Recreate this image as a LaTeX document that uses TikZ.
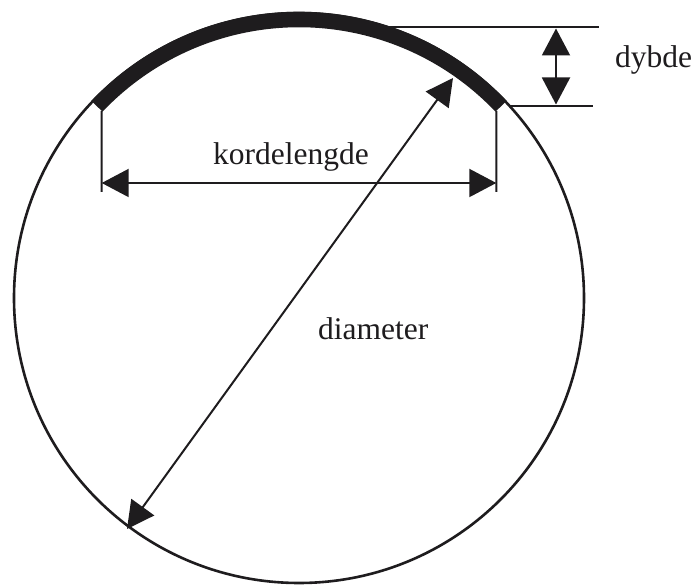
\documentclass[tikz,border=0pt]{standalone}
\usepackage{fontspec}
\setmainfont{Liberation Serif}
\usetikzlibrary{arrows.meta,calc}
\tikzset{
  thinline/.style={line width=2pt, draw={rgb,255:red,30;green,28;blue,30}},
  dimarrow/.style={thinline, {Triangle[length=27pt,width=28pt]}-{Triangle[length=27pt,width=28pt]}},
  lbl/.style={inner sep=0pt, anchor=base west, font=\fontsize{31.5}{36}\selectfont, text={rgb,255:red,30;green,28;blue,30}}
}
\begin{document}
\begin{tikzpicture}[x=1pt,y=1pt]
\useasboundingbox (0,0) rectangle (694,586);
\coordinate (O) at (299,288);
% dybde reference lines
\coordinate (T1) at (370,559);
\coordinate (T2) at (599,559);
\coordinate (B1) at (509.6,480);
\coordinate (B2) at (593,480);
\draw[thinline] (T1) -- (T2);
\draw[thinline] (B1) -- (B2);
% circle
\draw[line width=2.6pt, draw={rgb,255:red,30;green,28;blue,30}] (O) circle[radius=285];
% thick arc
\draw[line width=15.5pt, draw={rgb,255:red,30;green,28;blue,30}, line cap=butt]
  ($(O)+(43.5:278.5)$) arc[start angle=43.5, end angle=136.5, radius=278.5];
% chord extension lines
\coordinate (L) at ($(O)+(136.5:272)$);
\coordinate (R) at ($(O)+(43.5:272)$);
\coordinate (Lb) at (101.7,394);
\coordinate (Rb) at (496.3,394);
\draw[thinline] (L) -- (Lb);
\draw[thinline] (R) -- (Rb);
% chord arrow
\coordinate (KL) at (101.7,403);
\coordinate (KR) at (496.3,403);
\draw[dimarrow] (KL) -- (KR);
% depth arrow
\coordinate (D1) at (556,557.5);
\coordinate (D2) at (556,481.5);
\draw[dimarrow] (D1) -- (D2);
% diameter arrow
\coordinate (P1) at (127,57);
\coordinate (P2) at (453,508);
\draw[dimarrow] (P1) -- (P2);
% labels
\node[lbl] (kord) at (213,421) {kordelengde};
\node[lbl] (dyb) at (615,518) {dybde};
\node[lbl] (diam) at (318,246) {diameter};
\end{tikzpicture}
\end{document}
